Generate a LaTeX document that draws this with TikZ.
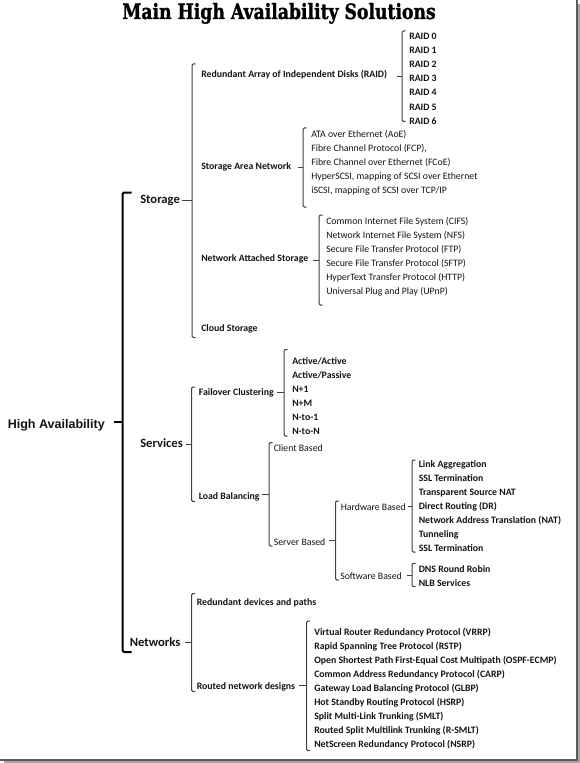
\documentclass[tikz,border=0pt]{standalone}
\usepackage{fontspec}
\usepackage{graphicx}
\setmainfont{Carlito}
\newfontfamily\hafont{Liberation Sans}
\newfontfamily\titlefont{DejaVu Serif}[FakeBold=1.5]
\newcommand\bracket[7][brk]{%
  \coordinate (#2) at (#3,{(#4+#5)/2});
  \draw[#1] (#3+#6,#4) -- (#3,#4) -- (#3,#5) -- (#3+#6,#5);
  \draw[#1] (#2) -- ++(-#7,0);
}
\tikzset{
  base/.style={anchor=west, inner sep=0pt, text height=0.6em, text depth=0pt, text=black!92},
  leaf/.style={base, font=\fontsize{7.35pt}{8pt}\selectfont\bfseries},
  leafr/.style={base, font=\fontsize{7.35pt}{8pt}\selectfont},
  lvltwo/.style={base, font=\fontsize{7.35pt}{8pt}\selectfont\bfseries},
  lvlone/.style={base, font=\fontsize{9.45pt}{10pt}\selectfont\bfseries},
  rootlab/.style={base, font=\hafont\fontsize{9.4pt}{10pt}\selectfont\bfseries},
  brk/.style={draw=black!75, line width=0.75pt, rounded corners=1pt},
  mainbrk/.style={draw=black, line width=1.5pt, rounded corners=1.2pt},
}
\begin{document}
\begin{tikzpicture}[x=0.75pt, y=-0.75pt]
\useasboundingbox (0,0) rectangle (580,763);
\fill[white] (0,0) rectangle (580,763);
% frame shadow
\draw[black!35, line width=1.5pt] (579,4) -- (579,762) -- (4,762);
\draw[black!65, line width=1.5pt] (577,0) -- (577,760) -- (0,760);

% title
\node[anchor=base, inner sep=0pt] (title) at (279,19)
  {\resizebox{235pt}{12pt}{\titlefont\bfseries Main High Availability Solutions}};

% root
\node[rootlab] (ha) at (7.5,424) {High Availability};
\bracket[mainbrk]{mb}{122.5}{192.5}{652}{9}{8.5}

% level 1
\node[lvlone] (storage) at (140,199.5) {Storage};
\node[lvlone] (services) at (140,443.5) {Services};
\node[lvlone] (networks) at (129.6,642.3) {Networks};

\bracket{bst}{192}{64}{337.5}{3.5}{10}
\bracket{bse}{191.5}{387}{501.5}{3.5}{5.5}
\bracket{bnw}{191.5}{593.5}{691.5}{3.5}{6.5}

% storage children
\node[lvltwo] (raid) at (201,73.3) {Redundant Array of Independent Disks (RAID)};
\node[lvltwo] (san) at (201,165.7) {Storage Area Network};
\node[lvltwo] (nas) at (201,257.7) {Network Attached Storage};
\node[lvltwo] (cloud) at (201,327.3) {Cloud Storage};

\bracket{braid}{402}{31}{121.5}{3.5}{5}
\foreach \t [count=\i] in {RAID 0,RAID 1,RAID 2,RAID 3,RAID 4,RAID 5,RAID 6}
  \node[leaf] (r\i) at (409,{35.8+14.05*(\i-1)}) {\t};

\bracket{bsan}{303}{128}{207}{3.5}{5}
\foreach \t [count=\i] in {{ATA over Ethernet (AoE)},{Fibre Channel Protocol (FCP),},{Fibre Channel over Ethernet (FCoE)},{HyperSCSI, mapping of SCSI over Ethernet},{iSCSI, mapping of SCSI over TCP/IP}}
  \node[leafr] (san\i) at (311,{133.3+14*(\i-1)}) {\t};

\bracket{bnas}{319}{215}{305}{3.5}{6}
\foreach \t [count=\i] in {{Common Internet File System (CIFS)},{Network Internet File System (NFS)},{Secure File Transfer Protocol (FTP)},{Secure File Transfer Protocol (SFTP)},{HyperText Transfer Protocol (HTTP)},{Universal Plug and Play (UPnP)}}
  \node[leafr] (nas\i) at (326,{220+14.1*(\i-1)}) {\t};

% services children
\node[lvltwo] (fc) at (198.5,391) {Failover Clustering};
\node[lvltwo] (lb) at (198.5,495.7) {Load Balancing};

\bracket{bfc}{284}{349.5}{436}{3.5}{7}
\foreach \t [count=\i] in {Active/Active,Active/Passive,N+1,N+M,N-to-1,N-to-N}
  \node[leaf] (fc\i) at (292,{360+14*(\i-1)}) {\t};

\bracket{blb}{269}{442.5}{546}{3.5}{7}
\node[leafr] (client) at (273.5,447.7) {Client Based};
\node[leafr] (server) at (273.5,541.7) {Server Based};

\bracket{bsrv}{335.5}{501}{580}{3.5}{6.5}
\node[leafr] (hw) at (340.5,506.7) {Hardware Based};
\node[leafr] (sw) at (340,575.7) {Software Based};

\bracket{bhw}{412}{460}{552}{3.5}{4.5}
\foreach \t [count=\i] in {Link Aggregation,SSL Termination,Transparent Source NAT,Direct Routing (DR),Network Address Translation (NAT),Tunneling,SSL Termination}
  \node[leaf] (hw\i) at (418.5,{463.7+13.95*(\i-1)}) {\t};

\bracket{bsw}{412}{563.3}{586.7}{3.5}{5}
\foreach \t [count=\i] in {DNS Round Robin,NLB Services}
  \node[leaf] (sw\i) at (418.5,{568.7+14*(\i-1)}) {\t};

% networks children
\node[lvltwo] (rdp) at (196.5,601.7) {Redundant devices and paths};
\node[lvltwo] (rnd) at (196.5,685.5) {Routed network designs};

\bracket{brn}{306.5}{621}{750.5}{3.5}{8}
\foreach \t [count=\i] in {{Virtual Router Redundancy Protocol (VRRP)},{Rapid Spanning Tree Protocol (RSTP)},{Open Shortest Path First-Equal Cost Multipath (OSPF-ECMP)},{Common Address Redundancy Protocol (CARP)},{Gateway Load Balancing Protocol (GLBP)},{Hot Standby Routing Protocol (HSRP)},{Split Multi-Link Trunking (SMLT)},{Routed Split Multilink Trunking (R-SMLT)},{NetScreen Redundancy Protocol (NSRP)}}
  \node[leaf] (rn\i) at (314,{631.7+13.95*(\i-1)}) {\t};
\end{tikzpicture}
\end{document}
